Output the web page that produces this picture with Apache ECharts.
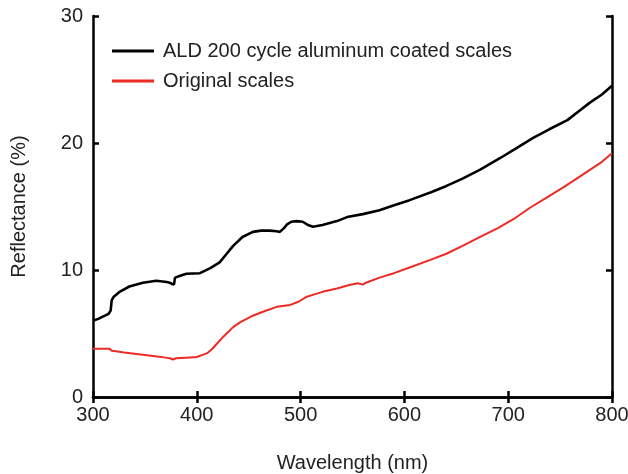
<!DOCTYPE html>
<html><head><meta charset="utf-8">
<script src="https://cdn.jsdelivr.net/npm/echarts@6/dist/echarts.min.js"></script>
<style>html,body{margin:0;padding:0;background:#fff}#c{width:628px;height:474px}</style>
</head><body><div id="c"></div>
<script>
const seriesNames = ['ALD 200 cycle aluminum coated scales', 'Original scales'];
const aldX = [300,305,310,315,317,318,320,326,335,348,361,371,374,376,378,379,384,390,403,413,422,429,435,444,454,462,470,477,480,484,487,491,496,502,507,512,521,528,535,546,560,576,590,605,625,640,656,673,692,708,724,740,757,768,779,790,800];
const aldY = [6.0,6.15,6.35,6.55,6.8,7.6,7.9,8.3,8.7,9.0,9.15,9.05,9.0,8.9,8.85,9.4,9.55,9.7,9.75,10.15,10.6,11.3,11.9,12.6,13.0,13.1,13.1,13.05,13.0,13.3,13.6,13.8,13.85,13.8,13.55,13.4,13.55,13.7,13.85,14.2,14.4,14.7,15.1,15.5,16.1,16.6,17.2,17.9,18.8,19.6,20.4,21.1,21.8,22.5,23.2,23.8,24.5];
const origX = [300,305,310,316,318,322,330,340,350,360,370,374,377,380,390,400,405,410,415,420,425,430,435,442,454,465,477,490,498,506,514,522,535,546,555,560,563,576,590,605,625,641,656,673,690,705,721,737,753,766,779,790,800];
const origY = [3.8,3.8,3.8,3.8,3.65,3.6,3.5,3.4,3.3,3.2,3.1,3.05,2.95,3.05,3.1,3.15,3.3,3.45,3.8,4.25,4.7,5.1,5.5,5.9,6.4,6.75,7.1,7.25,7.5,7.9,8.1,8.3,8.55,8.8,8.95,8.85,9.0,9.4,9.75,10.2,10.8,11.3,11.9,12.6,13.3,14.0,14.9,15.7,16.5,17.2,17.9,18.5,19.2];
const xTicks = {min:300, max:800, interval:100};
const yTicks = {min:0, max:30, interval:10};

const pairs = (xs, ys) => xs.map((x,i)=>[x, ys[i]]);
const font = 'Liberation Sans, Arial, sans-serif';
const axisLine = {show:true, lineStyle:{color:'#000', width:2.5}};
const axisTick = {show:true, inside:true, length:6, lineStyle:{color:'#000', width:2.5}};
const chart = echarts.init(document.getElementById('c'), null, {renderer:'canvas'});
chart.setOption({
  animation:false,
  backgroundColor:'#fff',
  grid:{left:93, right:16, top:16, bottom:77, containLabel:false, outerBoundsMode:'none'},
  legend:{
    orient:'vertical', left:107, top:36, itemGap:10,
    itemWidth:42, itemHeight:3, icon:'rect',
    textStyle:{fontFamily:font, fontSize:20, color:'#222', padding:[0,0,0,4]},
    data:seriesNames
  },
  xAxis:[
    {type:'value', position:'bottom', min:xTicks.min, max:xTicks.max, interval:xTicks.interval,
     axisLine, axisTick, splitLine:{show:false},
     axisLabel:{fontFamily:font, fontSize:20, color:'#222', margin:8},
     name:'Wavelength (nm)', nameLocation:'middle', nameGap:56,
     nameTextStyle:{fontFamily:font, fontSize:20, color:'#222'}},
    {type:'value', position:'top', min:xTicks.min, max:xTicks.max, interval:xTicks.interval,
     axisLine, axisTick, axisLabel:{show:false}, splitLine:{show:false}}
  ],
  yAxis:[
    {type:'value', position:'left', min:yTicks.min, max:yTicks.max, interval:yTicks.interval,
     axisLine, axisTick, splitLine:{show:false},
     axisLabel:{fontFamily:font, fontSize:20, color:'#222', margin:10},
     name:'Reflectance (%)', nameLocation:'middle', nameGap:64, nameRotate:90,
     nameTextStyle:{fontFamily:font, fontSize:20, color:'#222'}},
    {type:'value', position:'right', min:yTicks.min, max:yTicks.max, interval:yTicks.interval,
     axisLine, axisTick, axisLabel:{show:false}, splitLine:{show:false}}
  ],
  series:[
    {name:seriesNames[0], type:'line', data:pairs(aldX, aldY), showSymbol:false, symbol:'none',
     lineStyle:{color:'#000', width:2.6}, itemStyle:{color:'#000'}, z:3},
    {name:seriesNames[1], type:'line', data:pairs(origX, origY), showSymbol:false, symbol:'none',
     lineStyle:{color:'#ee2a24', width:2}, itemStyle:{color:'#ee2a24'}, z:2}
  ]
});
</script></body></html>
